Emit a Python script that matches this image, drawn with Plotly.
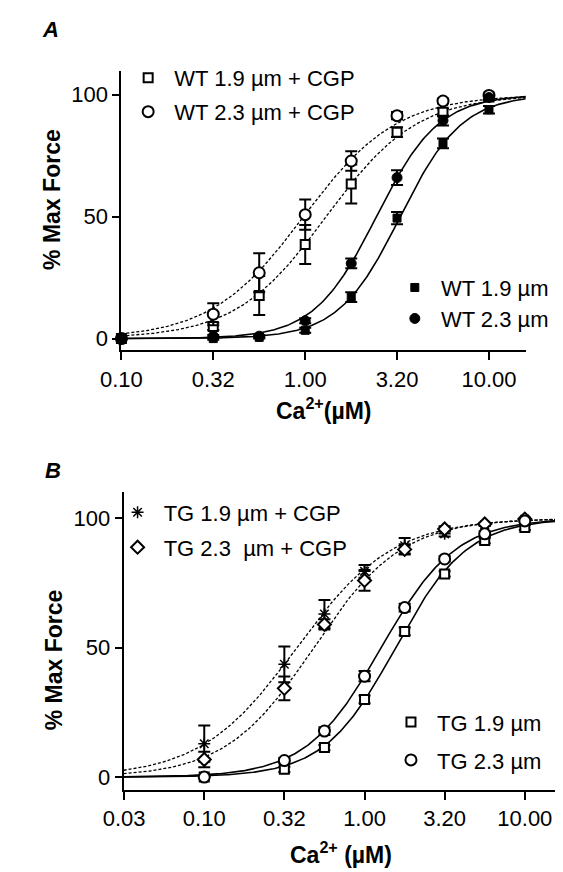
import numpy as np
import plotly.graph_objects as go

# ---------------- data ----------------
ca_A = [0.1, 0.316, 0.562, 1.0, 1.78, 3.16, 5.62, 10.0]
wt19_cgp = [0, 5, 17.7, 38.6, 63.4, 84.6, 92.8, 99.0]
wt19_cgp_err = [None, 1.5, 8, 8, 8, 2, 1.5, 1]
wt23_cgp = [0, 10, 27, 50.8, 72.8, 91.4, 97.4, 99.7]
wt23_cgp_err = [None, 4.5, 8, 6.2, 4, 1.5, 1, 0.5]
wt19 = [0, 0, 0.5, 3.4, 17, 49.4, 80, 93.8]
wt19_err = [None, 0.5, 0.5, 1, 2, 2.5, 2, 1.5]
wt23 = [0, 1, 1, 7.3, 30.8, 66, 89.4, 98.8]
wt23_err = [None, 0.5, 0.5, 1, 2, 3, 2, 1]

ca_B = [0.1, 0.316, 0.562, 1.0, 1.78, 3.16, 5.62, 10.0]
tg19_cgp = [12.9, 43.6, 63, 79.5, 89.4, 94, 97.5, 99.7]
tg19_cgp_err = [7, 6.9, 5.4, 2.5, 3, 1, 0.5, 0.5]
tg23_cgp = [6.8, 34.3, 59, 76, 88, 95.9, 97.8, 99.7]
tg23_cgp_err = [3, 4.6, 2, 4, 2, 1, 0.5, 0.5]
tg19 = [0, 3, 11.4, 30, 56.3, 78.5, 91.4, 96.5]
tg19_err = [None, 1, 1, 1.5, 1.5, 1, 1, 1]
tg23 = [0, 6.4, 17.8, 39, 65.5, 84.3, 94, 99]
tg23_err = [None, 1, 1.5, 2, 1.5, 1, 1, 0.5]

# Hill-fit parameters (EC50 in uM, Hill coefficient)
fit_A = {"wt19_cgp": (1.30, 1.76), "wt23_cgp": (0.98, 1.72),
         "wt19": (3.29, 2.58), "wt23": (2.44, 2.56)}
fit_B = {"tg19_cgp": (0.377, 1.45), "tg23_cgp": (0.481, 1.58),
         "tg19": (1.56, 1.94), "tg23": (1.27, 1.86)}

xtick_A_vals = [0.1, 0.316, 1.0, 3.16, 10.0]
xtick_A_text = ["0.10", "0.32", "1.00", "3.20", "10.00"]
xtick_B_vals = [0.0316, 0.1, 0.316, 1.0, 3.16, 10.0]
xtick_B_text = ["0.03", "0.10", "0.32", "1.00", "3.20", "10.00"]
ytick_vals = [0, 50, 100]

# ---------------- layout geometry (pixels) ----------------
W, H = 563, 872
FONT = "Liberation Sans, Arial, Helvetica, sans-serif"


def px_x(p):
    return p / W


def px_y(p):
    return 1 - p / H


A_range_log = [-1.0, 1.2]
B_range_log = [-1.503, 1.21]


def hill(x, ec50, n):
    x = np.asarray(x, dtype=float)
    return 100.0 / (1.0 + (ec50 / x) ** n)


fig = go.Figure()

# fitted curves
xa = np.logspace(A_range_log[0], A_range_log[1], 300)
xb = np.logspace(B_range_log[0], B_range_log[1], 300)
for key, dash, wd in [("wt19_cgp", "3px,2px", 1.3), ("wt23_cgp", "3px,2px", 1.3),
                      ("wt19", "solid", 1.6), ("wt23", "solid", 1.6)]:
    ec, n = fit_A[key]
    fig.add_trace(go.Scatter(x=xa, y=hill(xa, ec, n), mode="lines",
                             line=dict(color="black", width=wd, dash=dash),
                             showlegend=False, hoverinfo="skip",
                             xaxis="x", yaxis="y"))
for key, dash, wd in [("tg19_cgp", "3px,2px", 1.3), ("tg23_cgp", "3px,2px", 1.3),
                      ("tg19", "solid", 1.6), ("tg23", "solid", 1.6)]:
    ec, n = fit_B[key]
    fig.add_trace(go.Scatter(x=xb, y=hill(xb, ec, n), mode="lines",
                             line=dict(color="black", width=wd, dash=dash),
                             showlegend=False, hoverinfo="skip",
                             xaxis="x2", yaxis="y2"))


def add_points(x, y, err, name, symbol, size, fill, lw, ax, leg):
    fig.add_trace(go.Scatter(
        x=x, y=y, mode="markers", name=name, legend=leg,
        marker=dict(symbol=symbol, size=size, color=fill,
                    line=dict(color="black", width=lw)),
        error_y=dict(type="data", array=err, visible=True, color="black",
                     thickness=2, width=6),
        cliponaxis=False,
        xaxis="x" if ax == 1 else "x2", yaxis="y" if ax == 1 else "y2"))


NB = "\u00a0"
add_points(ca_A, wt19_cgp, wt19_cgp_err, NB + "WT 1.9 µm + CGP", "square", 9, "white", 2, 1, "legend")
add_points(ca_A, wt23_cgp, wt23_cgp_err, NB + "WT 2.3 µm + CGP", "circle", 11, "white", 2, 1, "legend2")
add_points(ca_A, wt19, wt19_err, NB + "WT 1.9 µm", "square", 8, "black", 1, 1, "legend3")
add_points(ca_A, wt23, wt23_err, NB + "WT 2.3 µm", "circle", 10, "black", 1, 1, "legend4")

add_points(ca_B, tg19_cgp, tg19_cgp_err, NB + "TG 1.9 µm + CGP", "asterisk-open", 10, "black", 1.5, 2, "legend5")
add_points(ca_B, tg23_cgp, tg23_cgp_err, NB + "TG 2.3" + NB + NB + "µm + CGP", "diamond", 10, "white", 2, 2, "legend6")
add_points(ca_B, tg19, tg19_err, NB + "TG 1.9 µm", "square", 9, "white", 2, 2, "legend7")
add_points(ca_B, tg23, tg23_err, NB + "TG 2.3 µm", "circle", 11, "white", 2, 2, "legend8")

# legends (one per entry, placed individually)
leg_pos = {
    "legend": (123, 70), "legend2": (123, 104),
    "legend3": (400, 280), "legend4": (400, 311),
    "legend5": (112, 505), "legend6": (112, 540),
    "legend7": (396, 715), "legend8": (396, 753),
}
legends = {}
for k, (mx, my) in leg_pos.items():
    legends[k] = dict(x=px_x(mx - 20), y=px_y(my), xanchor="left", yanchor="middle",
                      bgcolor="rgba(0,0,0,0)", borderwidth=0,
                      font=dict(family=FONT, size=22, color="black"))

axis_common = dict(showline=True, linecolor="black", linewidth=2, ticks="outside",
                   tickcolor="black", tickwidth=1.5, showgrid=False, zeroline=False,
                   tickfont=dict(family=FONT, size=22, color="black"))

fig.update_layout(
    width=W, height=H, margin=dict(l=0, r=0, t=0, b=0),
    paper_bgcolor="white", plot_bgcolor="white",
    font=dict(family=FONT, color="black"),
    xaxis=dict(type="log", range=A_range_log, domain=[px_x(96), px_x(516)],
               anchor="y", tickvals=xtick_A_vals, ticktext=xtick_A_text, ticklen=8,
               **axis_common),
    yaxis=dict(range=[-4.8, 109.6], domain=[px_y(342.7), px_y(63.3)], anchor="x",
               tickvals=ytick_vals, ticklen=7, **axis_common),
    xaxis2=dict(type="log", range=B_range_log, domain=[px_x(98.3), px_x(550)],
                anchor="y2", tickvals=xtick_B_vals, ticktext=xtick_B_text, ticklen=8,
                **axis_common),
    yaxis2=dict(range=[-4.9, 110], domain=[px_y(782.7), px_y(485)], anchor="x2",
                tickvals=ytick_vals, ticklen=7, **axis_common),
    **legends,
)

ann = [
    ("<b><i>A</i></b>", 22, 22, 0, 22),
    ("<b><i>B</i></b>", 25, 463, 0, 22),
    ("<b>Ca<sup>2+</sup>(µM)</b>", 306, 401, 0, 23),
    ("<b>Ca<sup>2+</sup> (µM)</b>", 324, 846, 0, 23),
    ("<b>% Max Force</b>", 24, 192, -90, 23),
    ("<b>% Max Force</b>", 26, 653, -90, 23),
]
for text, x, y, ang, sz in ann:
    fig.add_annotation(text=text, x=px_x(x), y=px_y(y), xref="paper", yref="paper",
                       xanchor="center", yanchor="middle", showarrow=False,
                       textangle=ang, font=dict(family=FONT, size=sz, color="black"))

fig.write_html("out.html")
